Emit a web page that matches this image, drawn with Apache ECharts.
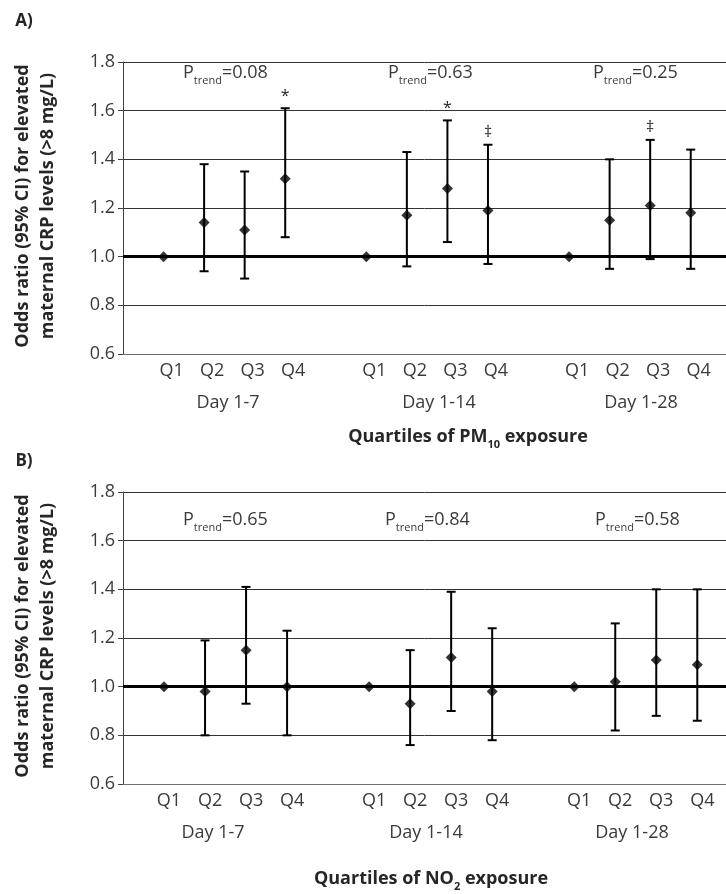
<!DOCTYPE html>
<html>
<head>
<meta charset="utf-8">
<script src="https://cdn.jsdelivr.net/npm/echarts@6/dist/echarts.min.js"></script>
<style>
  html, body { margin: 0; padding: 0; background: #fff; }
  #chart { width: 726px; height: 894px; }
</style>
</head>
<body>
<div id="chart"></div>
<script>
// ---- data ----
const groups = ['Day 1-7', 'Day 1-14', 'Day 1-28'];
const tickLabels = ['', 'Q1', 'Q2', 'Q3', 'Q4', '', 'Q1', 'Q2', 'Q3', 'Q4', '', 'Q1', 'Q2', 'Q3', 'Q4'];
const xIndex = [1, 2, 3, 4, 6, 7, 8, 9, 11, 12, 13, 14];
const yTicks = [0.6, 0.8, 1.0, 1.2, 1.4, 1.6, 1.8];

const pm10OR    = [1.00, 1.14, 1.11, 1.32, 1.00, 1.17, 1.28, 1.19, 1.00, 1.15, 1.21, 1.18];
const pm10Lower = [null, 0.94, 0.91, 1.08, null, 0.96, 1.06, 0.97, null, 0.95, 0.99, 0.95];
const pm10Upper = [null, 1.38, 1.35, 1.61, null, 1.43, 1.56, 1.46, null, 1.40, 1.48, 1.44];
const pm10Notes = ['', '', '', '*', '', '', '*', '\u2021', '', '', '\u2021', ''];
const pm10Ptrend = ['0.08', '0.63', '0.25'];

const no2OR    = [1.00, 0.98, 1.15, 1.00, 1.00, 0.93, 1.12, 0.98, 1.00, 1.02, 1.11, 1.09];
const no2Lower = [null, 0.80, 0.93, 0.80, null, 0.76, 0.90, 0.78, null, 0.82, 0.88, 0.86];
const no2Upper = [null, 1.19, 1.41, 1.23, null, 1.15, 1.39, 1.24, null, 1.26, 1.40, 1.40];
const no2Notes = ['', '', '', '', '', '', '', '', '', '', '', ''];
const no2Ptrend = ['0.65', '0.84', '0.58'];

// ---- chart ----
const FONT = '"Open Sans", "Noto Sans", sans-serif';
const TXT = '#3a3a3a';
const DARK = '#262626';
const chart = echarts.init(document.getElementById('chart'), null, { renderer: 'canvas' });

function xAxisCfg(gridIndex, max, pad) {
  return {
    type: 'value', gridIndex, min: 0, max, interval: 1,
    axisLine: { show: true, lineStyle: { color: '#6f6f6f', width: 1 } },
    axisTick: { show: false },
    splitLine: { show: false },
    axisLabel: {
      show: true, margin: 8, fontFamily: FONT, fontSize: 18, color: TXT,
      padding: [0, 0, 0, pad], showMaxLabel: false,
      formatter: v => tickLabels[Math.round(v)] || ''
    }
  };
}
function yAxisCfg(gridIndex) {
  return {
    type: 'value', gridIndex, min: yTicks[0], max: yTicks[yTicks.length - 1], interval: 0.2,
    axisLine: { show: true, lineStyle: { color: '#404040', width: 1 } },
    axisTick: { show: true, length: 5, lineStyle: { color: '#404040' } },
    splitLine: { show: true, lineStyle: { color: '#333', width: 1 } },
    axisLabel: { margin: 8, fontFamily: FONT, fontSize: 18, color: TXT, formatter: v => v.toFixed(1) }
  };
}

function errSeries(idx, lower, upper, notes) {
  const data = xIndex.map((x, i) => [x, lower[i] == null ? NaN : lower[i], upper[i] == null ? NaN : upper[i]]);
  return {
    type: 'custom', xAxisIndex: idx, yAxisIndex: idx, z: 3,
    data,
    encode: { x: 0, y: [1, 2] },
    renderItem: function (params, api) {
      const x = api.value(0), lo = api.value(1), hi = api.value(2);
      if (isNaN(lo) || isNaN(hi)) return null;
      const pl = api.coord([x, lo]), ph = api.coord([x, hi]);
      const cw = 4.5;
      const st = { stroke: '#000', lineWidth: 2 };
      const children = [
        { type: 'line', shape: { x1: pl[0], y1: pl[1], x2: ph[0], y2: ph[1] }, style: st },
        { type: 'line', shape: { x1: ph[0] - cw, y1: ph[1], x2: ph[0] + cw, y2: ph[1] }, style: st },
        { type: 'line', shape: { x1: pl[0] - cw, y1: pl[1], x2: pl[0] + cw, y2: pl[1] }, style: st }
      ];
      const note = notes[params.dataIndex];
      if (note) {
        children.push({ type: 'text', style: {
          text: note, x: ph[0], y: ph[1] - 4, align: 'center', verticalAlign: 'bottom',
          font: '16px ' + FONT, fill: DARK } });
      }
      return { type: 'group', children };
    }
  };
}
function pointSeries(idx, or) {
  return {
    type: 'scatter', xAxisIndex: idx, yAxisIndex: idx, z: 4,
    symbol: 'diamond', symbolSize: 11,
    itemStyle: { color: '#000' },
    data: xIndex.map((x, i) => [x, or[i]]),
    markLine: {
      silent: true, symbol: 'none', label: { show: false },
      lineStyle: { color: '#000', width: 3, type: 'solid' },
      data: [{ yAxis: 1.0 }]
    }
  };
}

function ptrendText(x, y, val) {
  return {
    type: 'text', left: x, top: y,
    style: {
      text: '{p|P}{s|trend}{p|=' + val + '}',
      rich: {
        p: { fontFamily: FONT, fontSize: 18, fill: TXT, lineHeight: 22, verticalAlign: 'top' },
        s: { fontFamily: FONT, fontSize: 11, fill: TXT, lineHeight: 12, padding: [11, 0, 0, 0], verticalAlign: 'top' }
      }
    }
  };
}
function plainText(x, y, text, size, bold, align) {
  return {
    type: 'text', x, y,
    style: { text, fontFamily: FONT, fontSize: size, fontWeight: bold ? 'bold' : 'normal',
             fill: bold ? DARK : TXT, align: align || 'center', verticalAlign: 'middle' }
  };
}
function yTitle(cy) {
  return {
    type: 'text', x: 35, y: cy, rotation: Math.PI / 2,
    style: {
      text: 'Odds ratio (95% CI) for elevated\nmaternal CRP levels (>8 mg/L)',
      fontFamily: FONT, fontSize: 18, fontWeight: 'bold', fill: DARK,
      align: 'center', verticalAlign: 'middle', lineHeight: 25
    }
  };
}
function xTitle(cx, cy, pre, sub, post) {
  return {
    type: 'text', x: cx, y: cy,
    style: {
      text: '{b|' + pre + '}{s|' + sub + '}{b|' + post + '}',
      align: 'center', verticalAlign: 'middle',
      rich: {
        b: { fontFamily: FONT, fontSize: 18, fontWeight: 'bold', fill: DARK, lineHeight: 22, verticalAlign: 'top' },
        s: { fontFamily: FONT, fontSize: 11, fontWeight: 'bold', fill: DARK, lineHeight: 12, padding: [11, 0, 0, 0], verticalAlign: 'top' }
      }
    }
  };
}

const option = {
  animation: false,
  backgroundColor: '#fff',
  grid: [
    { left: 123, top: 62, width: 603, height: 292 },
    { left: 123, top: 492, width: 603, height: 292 }
  ],
  xAxis: [xAxisCfg(0, 14.87, 16), xAxisCfg(1, 14.7, 10)],
  yAxis: [yAxisCfg(0), yAxisCfg(1)],
  series: [
    errSeries(0, pm10Lower, pm10Upper, pm10Notes),
    pointSeries(0, pm10OR),
    errSeries(1, no2Lower, no2Upper, no2Notes),
    pointSeries(1, no2OR)
  ],
  graphic: [
    plainText(24, 21, 'A)', 17, true),
    plainText(24, 461, 'B)', 17, true),
    yTitle(206),
    yTitle(636),
    ptrendText(183, 64, pm10Ptrend[0]),
    ptrendText(388, 64, pm10Ptrend[1]),
    ptrendText(593, 64, pm10Ptrend[2]),
    ptrendText(183, 511, no2Ptrend[0]),
    ptrendText(385, 511, no2Ptrend[1]),
    ptrendText(595, 511, no2Ptrend[2]),
    plainText(228, 403, groups[0], 18, false),
    plainText(439, 403, groups[1], 18, false),
    plainText(641, 403, groups[2], 18, false),
    plainText(213, 833, groups[0], 18, false),
    plainText(426, 833, groups[1], 18, false),
    plainText(632, 833, groups[2], 18, false),
    xTitle(468, 439, 'Quartiles of PM', '10', ' exposure'),
    xTitle(431, 881, 'Quartiles of NO', '2', ' exposure')
  ]
};
chart.setOption(option);
</script>
</body>
</html>
